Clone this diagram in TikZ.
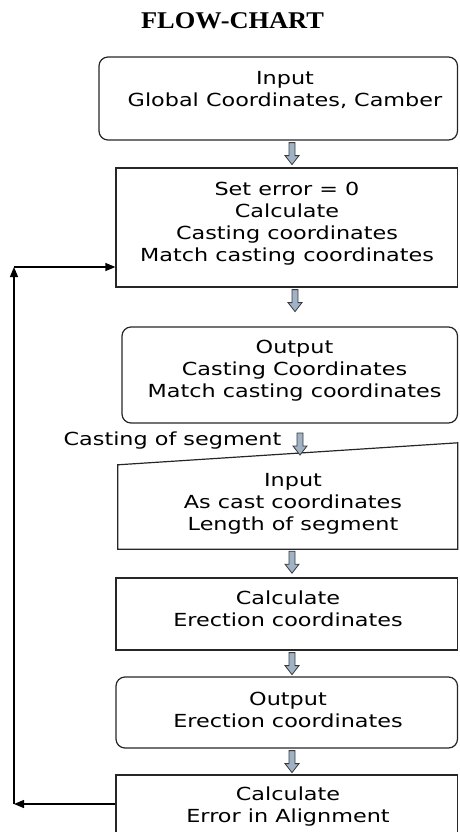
\documentclass[tikz,border=0pt]{standalone}
\usepackage{fontspec}
\usetikzlibrary{arrows.meta,calc}
\newfontfamily\boxfont[FakeStretch=1.24]{DejaVu Sans}
\newfontfamily\titlefont[FakeStretch=1.1]{Liberation Serif}
\definecolor{arrfill}{HTML}{9FB2C6}
\definecolor{arrline}{HTML}{3A3A3A}
\begin{document}
\begin{tikzpicture}[x=1pt,y=-1pt,
  boxline/.style={draw=black!85, line width=1.2pt},
  box/.style={boxline, rectangle, inner sep=0pt},
  rbox/.style={box, rounded corners=9pt},
  txt/.style={font=\boxfont\fontsize{18}{22}\selectfont, align=center, inner sep=0pt},
  blockarr/.pic={\draw[draw=arrline, fill=arrfill, line width=0.8pt, line join=miter]
     (-3,0) -- (-3,13) -- (-7,13) -- (0,22) -- (7,13) -- (3,13) -- (3,0) -- cycle;},
  fb/.style={line width=1.2pt, -{Triangle[length=10pt,width=8pt]}}]
\useasboundingbox (0,0) rectangle (459,832);

\node[font=\titlefont\bfseries\fontsize{24}{28}\selectfont, anchor=base, inner sep=0pt] (title) at (232.5,29) {FLOW-CHART};

% boxes
\node[rbox, minimum width=358.5pt, minimum height=83pt] (b1) at (278.25,98.5) {};
\node[box, minimum width=341.5pt, minimum height=119pt] (b2) at (286.75,227.5) {};
\node[rbox, minimum width=335.5pt, minimum height=96pt] (b3) at (289.75,375) {};
\node[inner sep=0pt, minimum width=339.5pt, minimum height=106pt] (b4) at (287.75,496) {};
\draw[boxline] ([yshift=-22pt]b4.north west) -- (b4.north east) -- (b4.south east) -- (b4.south west) -- cycle;
\node[box, minimum width=341.5pt, minimum height=72pt] (b5) at (286.75,614) {};
\node[rbox, minimum width=341.5pt, minimum height=71pt] (b6) at (286.75,712.5) {};
\node[box, minimum width=341.5pt, minimum height=70pt] (b7) at (286.75,810) {};

% texts
\node[txt] (t1) at (285,90) {Input\\Global Coordinates, Camber};
\node[txt] (t2) at (287,223.5) {Set error = 0\\Calculate\\Casting coordinates\\Match casting coordinates};
\node[txt] (t3) at (294.5,371) {Output\\Casting Coordinates\\Match casting coordinates};
\node[txt] (t4) at (293,504) {Input\\As cast coordinates\\Length of segment};
\node[txt] (t5) at (288,609) {Calculate\\Erection coordinates};
\node[txt] (t6) at (288,709.5) {Output\\Erection coordinates};
\node[txt] (t7) at (288,807) {Calculate\\Error in Alignment};
\node[txt, anchor=base] (lab) at (172.5,445) {Casting of segment};

% block arrows
\coordinate (a1) at (292,0 |- b1.south);
\coordinate (a2) at (295,0 |- b2.south);
\coordinate (a3) at (300,433);
\coordinate (a4) at (292,0 |- b4.south);
\coordinate (a5) at (292,0 |- b5.south);
\coordinate (a6) at (292,0 |- b6.south);
\pic at ([yshift=-2pt]a1) {blockarr};
\pic at ([yshift=-2pt]a2) {blockarr};
\pic at (a3) {blockarr};
\pic at ([yshift=-2pt]a4) {blockarr};
\pic at ([yshift=-2pt]a5) {blockarr};
\pic at ([yshift=-2pt]a6) {blockarr};

% feedback loop
\coordinate (c1) at (14,804);
\coordinate (c2) at (14,267);
\draw[fb] (b7.west |- c1) -- (c1);
\draw[fb] (c1) -- (c2);
\draw[fb] (c2) -- (c2 -| b2.west);
\end{tikzpicture}
\end{document}
